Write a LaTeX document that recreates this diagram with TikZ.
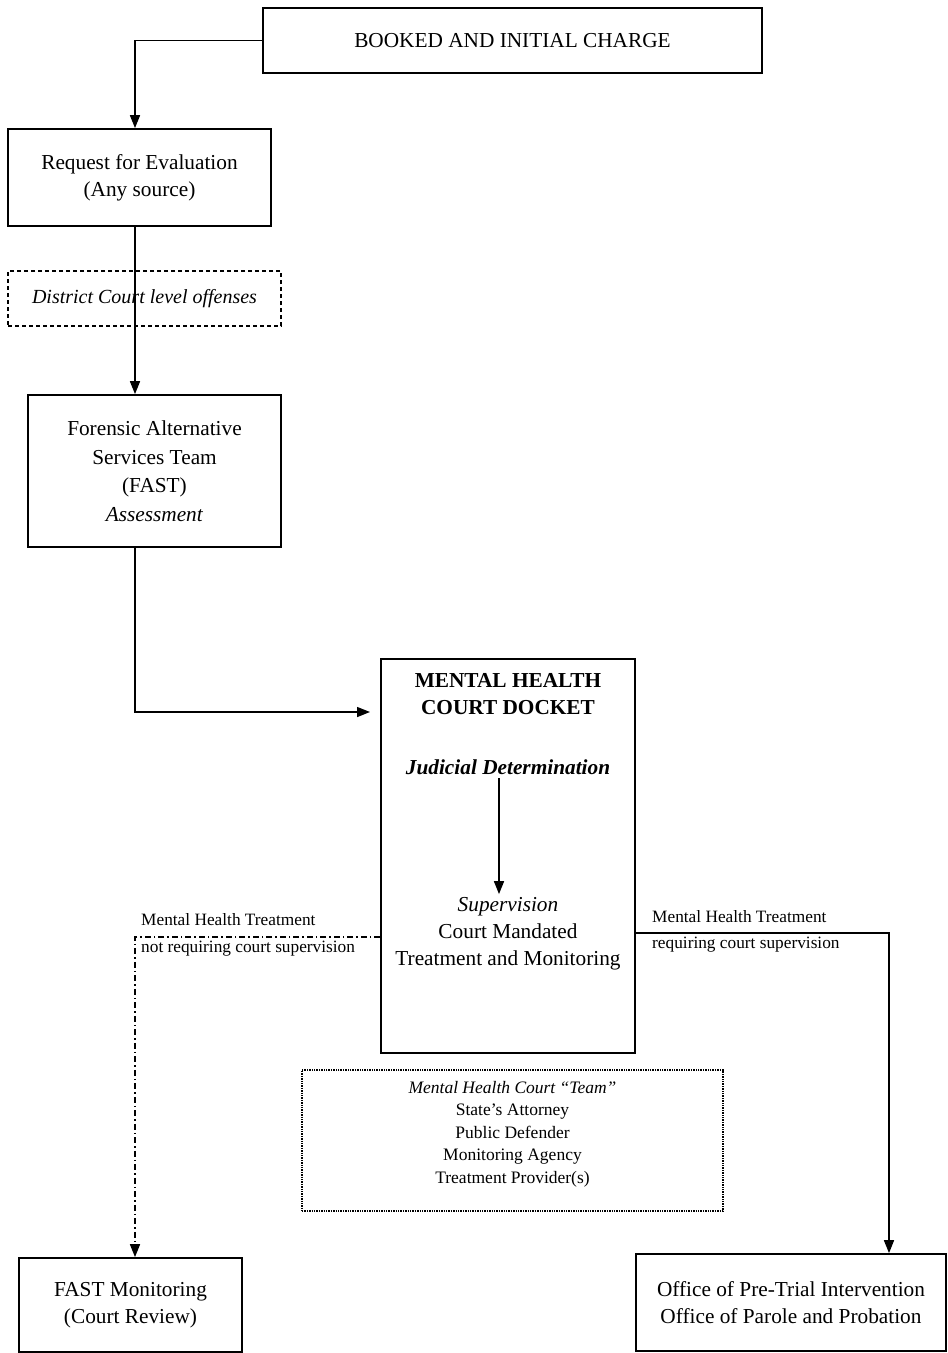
\documentclass[tikz,border=0pt]{standalone}
\usepackage{fontspec}
\setmainfont{Liberation Serif}
\usetikzlibrary{arrows.meta}

\tikzset{
  box/.style={draw, rectangle, line width=1.7pt, align=center, font=\fontsize{21.3}{27}\selectfont},
  lbl/.style={font=\fontsize{17.3}{26}\selectfont, inner sep=0pt, anchor=west},
  flow/.style={-{Triangle[length=13pt,width=10pt]}, line width=1.5pt},
}

\begin{document}
\begin{tikzpicture}[x=1pt,y=-1pt]
\useasboundingbox (0,0) rectangle (948,1353);

\node[box, minimum width=499pt, minimum height=65pt] (book) at (512.5,40.5) {BOOKED AND INITIAL CHARGE};
\node[box, minimum width=263pt, minimum height=97pt] (req) at (139.5,177.5) {Request for Evaluation\\(Any source)};
\node[box, line width=1.4pt, dash pattern=on 4pt off 3pt, minimum width=273pt, minimum height=55pt, font=\fontsize{20}{25}\selectfont\itshape] (dist) at (144.5,298.5) {District Court level offenses};
\node[box, minimum width=253pt, minimum height=152pt, font=\fontsize{21.3}{28.5}\selectfont] (fast) at (154.5,471) {Forensic Alternative\\Services Team\\(FAST)\\\textit{Assessment}};

\node[box, minimum width=254pt, minimum height=394pt] (mhc) at (508,856) {};
\node[align=center, font=\fontsize{21.3}{27}\selectfont\bfseries] (mhctitle) at (508,694.5) {MENTAL HEALTH\\COURT DOCKET};
\node[font=\fontsize{21.3}{27}\selectfont\bfseries\itshape] (jud) at (508,767) {Judicial Determination};
\node[align=center, font=\fontsize{21.3}{27}\selectfont] (sup) at (508,934) {\textit{Supervision}\\Court Mandated\\Treatment and Monitoring};

\node[draw, densely dotted, line width=1.4pt, minimum width=421pt, minimum height=141pt] (team) at (512.5,1140.5) {};
\node[align=center, font=\fontsize{17.5}{22.5}\selectfont] (teamtxt) at (512.5,1134) {\textit{Mental Health Court ``Team''}\\State's Attorney\\Public Defender\\Monitoring Agency\\Treatment Provider(s)};

\node[box, minimum width=223pt, minimum height=94pt] (fastmon) at (130.5,1305) {FAST Monitoring\\(Court Review)};
\node[box, minimum width=310pt, minimum height=97pt] (office) at (791,1302.5) {Office of Pre-Trial Intervention\\Office of Parole and Probation};

% lanes and split points
\coordinate (lane) at (135,0);
\coordinate (rlane) at (889,0);
\coordinate (mhcin) at (370,712);
\coordinate (lsplit) at (0,937);
\coordinate (rsplit) at (0,933);

\draw[flow] (book.west) -| (req.north -| lane);
\draw[flow] (req.south -| lane) -- (fast.north -| lane);
\draw[flow] (fast.south -| lane) |- (mhcin);
\draw[flow] ([xshift=-9pt]jud.south) -- ([xshift=-9pt]sup.north);
\draw[flow, dash pattern=on 6pt off 3pt on 1.5pt off 3pt] (mhc.west |- lsplit) -| (fastmon.north -| lane);
\draw[flow] (mhc.east |- rsplit) -| (office.north -| rlane);

\node[lbl] (ltop) at (141,920) {Mental Health Treatment};
\node[lbl] (lbot) at (141,949) {not requiring court supervision};
\node[lbl] (rtop) at (652,917) {Mental Health Treatment};
\node[lbl] (rbot) at (652,945) {requiring court supervision};
\end{tikzpicture}
\end{document}
